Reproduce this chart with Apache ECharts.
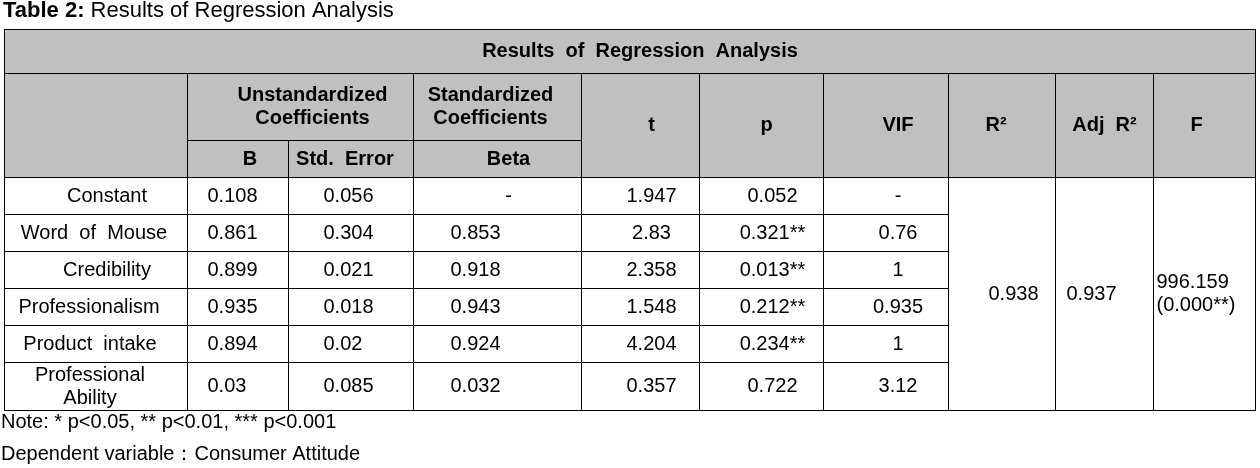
<!DOCTYPE html>
<html><head><meta charset="utf-8">
<script src="https://cdn.jsdelivr.net/npm/echarts@6/dist/echarts.min.js"></script>
<style>html,body{margin:0;padding:0;background:#fff}#chart{width:1260px;height:468px}</style>
</head><body><div id="chart"></div>
<script>
// ---------- data ----------
const captionBold = 'Table 2:';
const captionText = 'Results of Regression Analysis';
const tableTitle = 'Results  of  Regression  Analysis';
const groupHeaders = ['Unstandardized\nCoefficients', 'Standardized\nCoefficients'];
const subHeaders = ['B', 'Std.  Error', 'Beta'];
const singleHeaders = ['t', 'p', 'VIF', 'R²', 'Adj  R²', 'F'];
const rowNames = ['Constant', 'Word  of  Mouse', 'Credibility', 'Professionalism', 'Product  intake', 'Professional\nAbility'];
const colB = ['0.108', '0.861', '0.899', '0.935', '0.894', '0.03'];
const colStdErr = ['0.056', '0.304', '0.021', '0.018', '0.02', '0.085'];
const colBeta = ['-', '0.853', '0.918', '0.943', '0.924', '0.032'];
const colT = ['1.947', '2.83', '2.358', '1.548', '4.204', '0.357'];
const colP = ['0.052', '0.321**', '0.013**', '0.212**', '0.234**', '0.722'];
const colVIF = ['-', '0.76', '1', '0.935', '1', '3.12'];
const rSquared = '0.938';
const adjRSquared = '0.937';
const fValue = '996.159\n(0.000**)';
const noteLine = 'Note: * p<0.05, ** p<0.01, *** p<0.001';
const dependentLine = 'Dependent variable：Consumer Attitude';

// ---------- layout (sizes, not data) ----------
const colWidths = [183, 101, 125, 168, 118, 124, 125, 107, 98, 102];
const rowHeights = [37, 37, 37, 37, 37, 48];
const headerLevels = [44, 67, 37];
const FONT = '"Liberation Sans", Arial, sans-serif';
const HEADER_BG = '#c0c0c0';
// per-column label placement: [position, distance]
const colLabelPos = [
  ['inside', 0], ['insideLeft', 17], ['insideLeft', 32], ['insideLeft', 34],
  ['inside', 22], ['inside', 22], ['inside', 24], ['inside', 23], ['insideLeft', 8], ['insideLeft', -3]
];
// horizontal nudge of the row-name labels (px, positive = right)
const rowNameShift = [11, -2, 11, -7, -6, -6];

function labelFor(c) {
  const [pos, d] = colLabelPos[c];
  if (pos === 'insideLeft') return { position: 'insideLeft', distance: d, align: 'left', overflow: 'none' };
  return { padding: d >= 0 ? [0, 0, 0, d] : [0, -d, 0, 0], overflow: 'none' };
}

const bodyCols = [rowNames, colB, colStdErr, colBeta, colT, colP, colVIF];
const bodyData = [];
bodyCols.forEach((col, c) => {
  col.forEach((v, r) => {
    let lab = labelFor(c);
    if (c === 0) {
      const s = rowNameShift[r] * 2;
      lab = { padding: s >= 0 ? [0, 0, 0, s] : [0, -s, 0, 0], overflow: 'none' };
    }
    if (c === 3 && v === '-') lab = { padding: [0, 0, 0, 22] };
    bodyData.push({ coord: [c, r], value: v, label: lab });
  });
});
const lastRow = rowNames.length - 1;
bodyData.push({ coord: [7, [0, lastRow]], mergeCells: true, value: rSquared, label: labelFor(7) });
bodyData.push({ coord: [8, [0, lastRow]], mergeCells: true, value: adjRSquared, label: labelFor(8) });
bodyData.push({ coord: [9, [0, lastRow]], mergeCells: true, value: fValue, label: labelFor(9) });

const xData = [{
  value: tableTitle,
  label: { padding: [0, 0, 0, 20] },
  children: [
    { value: ' ', size: colWidths[0] },
    { value: groupHeaders[0], label: { padding: [0, 0, 0, 24] }, children: [
      { value: subHeaders[0], size: colWidths[1], label: { padding: [0, 0, 0, 24] } },
      { value: subHeaders[1], size: colWidths[2], label: { padding: [0, 12, 0, 0] } }
    ] },
    { value: groupHeaders[1], label: { padding: [0, 14, 0, 0] }, children: [
      { value: subHeaders[2], size: colWidths[3], label: { padding: [0, 0, 0, 22] } }
    ] },
    { value: singleHeaders[0], size: colWidths[4], label: { padding: [0, 0, 0, 22] } },
    { value: singleHeaders[1], size: colWidths[5], label: { padding: [0, 0, 0, 10] } },
    { value: singleHeaders[2], size: colWidths[6], label: { padding: [0, 0, 0, 24] } },
    { value: singleHeaders[3], size: colWidths[7], label: { padding: [0, 12, 0, 0] } },
    { value: singleHeaders[4], size: colWidths[8] },
    { value: singleHeaders[5], size: colWidths[9], label: { padding: [0, 16, 0, 0] } }
  ]
}];

const chart = echarts.init(document.getElementById('chart'), null, { renderer: 'canvas' });
chart.setOption({
  backgroundColor: '#fff',
  animation: false,
  title: [
    {
      text: '{b|' + captionBold + '} ' + captionText,
      left: 3, top: 0, padding: 0,
      textStyle: {
        fontFamily: FONT, fontSize: 22, fontWeight: 'normal', color: '#000',
        rich: { b: { fontFamily: FONT, fontSize: 22, fontWeight: 'bold', color: '#000' } }
      }
    },
    { text: noteLine, left: 1, top: 412, padding: 0,
      textStyle: { fontFamily: FONT, fontSize: 20, fontWeight: 'normal', color: '#000' } },
    { text: dependentLine, left: 1, top: 444, padding: 0,
      textStyle: { fontFamily: FONT, fontSize: 20, fontWeight: 'normal', color: '#000' } }
  ],
  matrix: {
    left: 4, top: 29, width: 1251, height: 381,
    backgroundStyle: { color: '#fff', borderColor: '#000', borderWidth: 1 },
    x: {
      data: xData,
      levels: headerLevels.map(s => ({ levelSize: s })),
      itemStyle: { color: HEADER_BG, borderColor: '#000', borderWidth: 1 },
      label: { fontFamily: FONT, fontSize: 20, fontWeight: 'bold', color: '#000', lineHeight: 23 },
      dividerLineStyle: { color: '#000', width: 1 }
    },
    y: {
      show: false,
      data: rowNames.map((n, i) => ({ value: 'row' + i, size: rowHeights[i] }))
    },
    body: {
      data: bodyData,
      itemStyle: { color: '#fff', borderColor: '#000', borderWidth: 1 },
      label: { fontFamily: FONT, fontSize: 20, color: '#000', lineHeight: 23 }
    }
  }
});
</script></body></html>
